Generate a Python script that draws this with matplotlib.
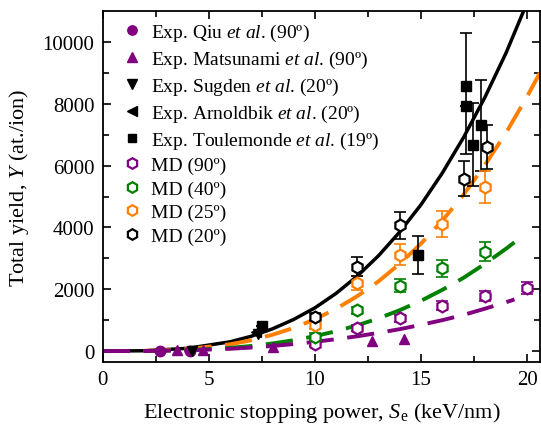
import matplotlib
matplotlib.use('Agg')
import matplotlib.pyplot as plt
import numpy as np

plt.rcParams['font.family'] = 'Liberation Serif'
plt.rcParams['mathtext.fontset'] = 'custom'
plt.rcParams['mathtext.rm'] = 'Liberation Serif'
plt.rcParams['mathtext.it'] = 'Liberation Serif:italic'

purple = '#800080'
green = '#008000'
orange = '#ff7f00'

# experiments
qiu_x = [2.7, 4.1]
qiu_y = [0, 0]
mats_x = [3.5, 4.7, 8.0, 12.7, 14.2]
mats_y = [20, 40, 120, 330, 400]
sugden_x = [4.2, 7.3]
sugden_y = [0, 550]
arnold_x = [7.2]
arnold_y = [620]
toul_x = [7.5, 14.85, 17.1, 17.1, 17.45, 17.8]
toul_y = [800, 3100, 8560, 7940, 6660, 7320]
toul_lo = [0, 620, 2200, 0, 1330, 1500]
toul_hi = [0, 620, 1720, 0, 1360, 1450]

# MD simulations
md_x = [10, 12, 14, 16, 18]
md90_x = [10, 12, 14, 16, 18, 20]
md90_y = [240, 740, 1060, 1470, 1780, 2040]
md90_e = [80, 100, 120, 140, 160, 180]
md40_y = [470, 1320, 2120, 2680, 3220]
md40_e = [100, 120, 200, 280, 300]
md25_y = [850, 2200, 3120, 4120, 5300]
md25_e = [150, 220, 330, 420, 520]
md20_x = [10, 12, 14, 17, 18.1]
md20_y = [1100, 2730, 4070, 5580, 6600]
md20_e = [120, 300, 440, 560, 700]

# fitted curves
fit_x = [0, 2, 4, 6, 7, 8, 9, 10, 11, 12, 13, 14, 15, 16, 17, 18, 19, 19.8]
fit_y = [0, 11, 90, 300, 480, 720, 1025, 1400, 1870, 2430, 3090, 3860, 4740, 5760, 6910, 8200, 9640, 10950]
f25_x = [0, 2, 4, 6, 7, 8, 9, 10, 11, 12, 13, 14, 15, 16, 17, 18, 19, 20, 20.6]
f25_y = [0, 8, 66, 220, 350, 530, 750, 1030, 1370, 1780, 2260, 2830, 3480, 4220, 5060, 6010, 7060, 8240, 9000]
f40_x = [0, 2, 4, 6, 7, 8, 9, 10, 11, 12, 13, 14, 15, 16, 17, 18, 19, 19.4]
f40_y = [0, 4, 31, 104, 165, 247, 352, 483, 643, 835, 1060, 1325, 1630, 1980, 2370, 2820, 3310, 3520]
f90_x = [0, 2, 4, 6, 7, 8, 9, 10, 11, 12, 13, 14, 15, 16, 17, 18, 19, 19.4]
f90_y = [0, 4, 24, 75, 115, 165, 228, 300, 385, 480, 590, 710, 850, 1000, 1170, 1370, 1580, 1670]

fig = plt.figure(figsize=(5.41, 4.31), dpi=100)
ax = fig.add_axes([0.19, 0.158, 0.808, 0.814])

ax.plot(fit_x, fit_y, '-', color='k', lw=2.5, zorder=2)
ax.plot(f25_x, f25_y, color=orange, lw=2.8, dashes=(7, 3.5), zorder=2)
ax.plot(f40_x, f40_y, color=green, lw=2.8, dashes=(7, 3.5), zorder=2)
ax.plot(f90_x, f90_y, color=purple, lw=2.8, dashes=(7, 3.5), zorder=2)

ms = 7.5
ax.plot(qiu_x, qiu_y, 'o', color=purple, ms=ms, ls='none', label=r'Exp. Qiu $\it{et\ al}$. (90º)', zorder=4)
ax.plot(mats_x, mats_y, '^', color=purple, ms=ms, ls='none', label=r'Exp. Matsunami $\it{et\ al}$. (90º)', zorder=4)
ax.plot(sugden_x, sugden_y, 'v', color='k', ms=ms, ls='none', label=r'Exp. Sugden $\it{et\ al}$. (20º)', zorder=4)
ax.plot(arnold_x, arnold_y, '<', color='k', ms=ms, ls='none', label=r'Exp. Arnoldbik $\it{et\ al}$. (20º)', zorder=4)
ax.errorbar(toul_x, toul_y, yerr=[toul_lo, toul_hi], fmt='none', ecolor='k', elinewidth=1.2, capsize=4, capthick=1.2, zorder=3)
ax.plot(toul_x, toul_y, 's', color='k', ms=6.5, ls='none', label=r'Exp. Toulemonde $\it{et\ al}$. (19º)', zorder=4)

for xs, ys, es, c, lab in [(md90_x, md90_y, md90_e, purple, 'MD (90º)'),
                            (md_x, md40_y, md40_e, green, 'MD (40º)'),
                            (md_x, md25_y, md25_e, orange, 'MD (25º)'),
                            (md20_x, md20_y, md20_e, 'k', 'MD (20º)')]:
    ax.errorbar(xs, ys, yerr=es, fmt='none', ecolor=c, elinewidth=1.2, capsize=4, capthick=1.2, zorder=3)
    ax.plot(xs, ys, 'h', mfc='white', mec=c, mew=1.6, ms=8.5, ls='none', label=lab, zorder=4)

ax.set_xlim(0, 20.6)
ax.set_ylim(-350, 11000)
ax.set_xticks([0, 5, 10, 15, 20])
ax.set_xticks([2.5, 7.5, 12.5, 17.5], minor=True)
ax.set_yticks([0, 2000, 4000, 6000, 8000, 10000])
ax.set_yticks([1000, 3000, 5000, 7000, 9000], minor=True)
ax.tick_params(which='both', direction='in', top=True, right=True, labelsize=15, width=1.2)
ax.tick_params(which='major', length=6, pad=6)
ax.tick_params(which='minor', length=4)
for s in ax.spines.values():
    s.set_linewidth(1.3)

ax.set_xlabel(r'Electronic stopping power, $S_{\rm e}$ (keV/nm)', fontsize=16, labelpad=8)
ax.set_ylabel(r'Total yield, $Y$ (at./ion)', fontsize=16, labelpad=8)

leg = ax.legend(loc='upper left', bbox_to_anchor=(0.02, 1.0), frameon=False, fontsize=14,
                labelspacing=0.3, handletextpad=0.5, borderaxespad=0.25, handlelength=1.0,
                markerscale=0.9, borderpad=0.3)

fig.savefig('out.png', dpi=100)
